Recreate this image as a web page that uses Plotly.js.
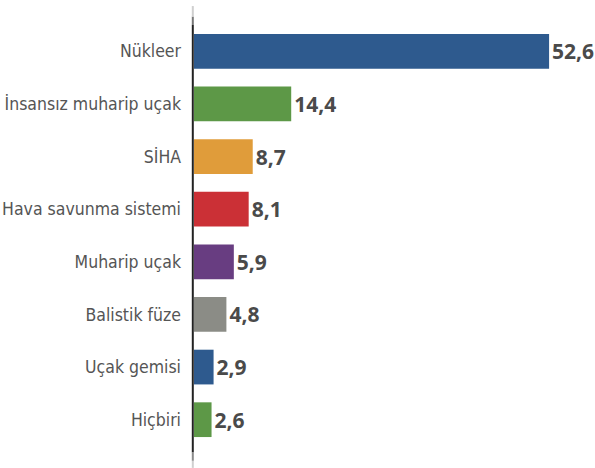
<!DOCTYPE html>
<html>
<head>
<meta charset="utf-8">
<script src="https://cdn.plot.ly/plotly-3.0.1.min.js"></script>
<style>
  html, body { margin: 0; padding: 0; background: #ffffff; }
  #chart { width: 595px; height: 468px; }
  #chart .ytick text { font-stretch: condensed; }
  #chart .textpoint text { font-stretch: 75%; }
</style>
</head>
<body>
<div id="chart"></div>
<script>
const categories = ["Nükleer", "İnsansız muharip uçak", "SİHA", "Hava savunma sistemi", "Muharip uçak", "Balistik füze", "Uçak gemisi", "Hiçbiri"];
const values = [52.6, 14.4, 8.7, 8.1, 5.9, 4.8, 2.9, 2.6];
const barColors = ["#2e5a8e", "#5d9847", "#e09c3a", "#cb3036", "#683d81", "#8b8c86", "#2e5a8e", "#5d9847"];

const LABEL_FONT = "'DejaVu Sans', sans-serif";
const VALUE_FONT = "'Open Sans', 'DejaVu Sans', sans-serif";

const trace = {
  type: "bar",
  orientation: "h",
  y: categories,
  x: values,
  marker: { color: barColors, line: { width: 0 } },
  width: 0.66,
  texttemplate: "<b>%{x:.1f}</b>",
  textposition: "outside",
  cliponaxis: false,
  textfont: { family: VALUE_FONT, size: 21, color: "#4a4a4a" },
  hoverinfo: "skip"
};

// vertical axis line with faded ends (paper coords in y)
const axisSegments = [
  [-0.052, -0.035, "#d0d0d0"],
  [-0.035, -0.015, "#8a8a8a"],
  [-0.015, 1.0, "#222222"],
  [1.0, 1.02, "#777777"],
  [1.02, 1.045, "#cfcfcf"]
];
const shapes = axisSegments.map(s => ({
  type: "line", xref: "paper", yref: "paper",
  x0: -0.003, x1: -0.003, y0: s[0], y1: s[1],
  line: { color: s[2], width: 2 }
}));

const layout = {
  width: 595,
  height: 468,
  margin: { l: 194, r: 0, t: 25, b: 22 },
  paper_bgcolor: "#ffffff",
  plot_bgcolor: "#ffffff",
  separators: ",.",
  showlegend: false,
  xaxis: {
    range: [0, 59.4],
    visible: false,
    fixedrange: true
  },
  yaxis: {
    autorange: "reversed",
    showline: false,
    showgrid: false,
    zeroline: false,
    ticks: "",
    ticklabelstandoff: 12,
    tickfont: { family: LABEL_FONT, size: 17.5, color: "#555555" },
    fixedrange: true
  },
  shapes: shapes
};

Plotly.newPlot("chart", [trace], layout, { displayModeBar: false, staticPlot: true });
</script>
</body>
</html>
